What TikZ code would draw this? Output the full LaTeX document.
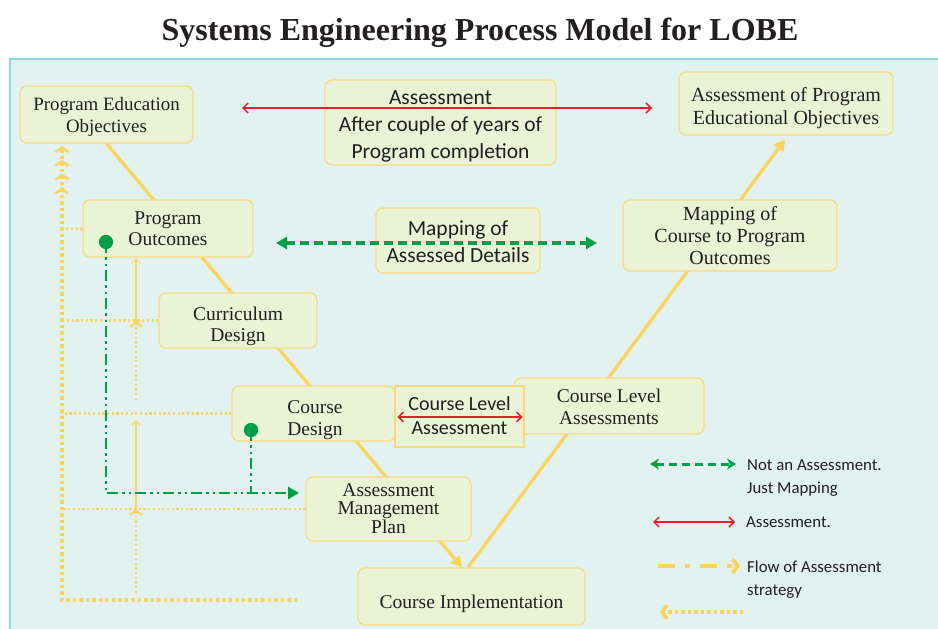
\documentclass[tikz,border=0pt]{standalone}
\usepackage{fontspec}
\setmainfont{Liberation Serif}
\newfontfamily\sansf{Carlito}
\usetikzlibrary{arrows.meta,calc,backgrounds}
\definecolor{panelfill}{RGB}{226,242,241}
\definecolor{panelline}{RGB}{140,210,234}
\definecolor{boxfill}{RGB}{235,243,214}
\definecolor{boxline}{RGB}{248,218,125}
\definecolor{vyellow}{RGB}{252,212,92}
\definecolor{mygreen}{RGB}{0,160,75}
\definecolor{myred}{RGB}{232,30,40}
\definecolor{ink}{RGB}{35,31,32}
\newcommand{\bxt}[2]{\raisebox{#1}[\height][\depth]{\begin{tabular}{@{}c@{}}#2\end{tabular}}}
\begin{document}
\begin{tikzpicture}[x=1pt,y=-1pt,
  box/.style={draw=boxline,fill=boxfill,line width=1.2pt,rounded corners=7pt,inner sep=0pt,align=center,text=ink},
  serif/.style={font=\fontsize{19.5}{22}\selectfont},
  sanstext/.style={font=\sansf\fontsize{21.5}{27}\selectfont},
  legtext/.style={font=\sansf\fontsize{16.8}{23}\selectfont,text=ink,align=left,anchor=west,inner sep=0pt},
  vline/.style={draw=vyellow,line width=3.2pt},
  redarrow/.style={draw=myred,line width=1.5pt,{Straight Barb[length=5pt,width=10pt,line width=1.5pt]}-{Straight Barb[length=5pt,width=10pt,line width=1.5pt]}},
  greendash/.style={draw=mygreen,line width=3.5pt,dash pattern=on 9pt off 5pt},
  flowline/.style={draw=mygreen,line width=2.8pt,dash pattern=on 11pt off 4pt on 2.5pt off 4pt on 2.5pt off 4pt},
  thickdot/.style={draw=vyellow,line width=3.8pt,dash pattern=on 3.5pt off 3pt},
  thindot/.style={draw=vyellow,line width=2.2pt,dash pattern=on 2.2pt off 2.5pt},
  thinsolid/.style={draw=vyellow,line width=1.2pt},
  gdot/.style={circle,fill=mygreen,minimum size=14pt,inner sep=0pt}
]
\useasboundingbox (0,0) rectangle (938,629);

% title
\node[font=\bfseries\fontsize{32}{36}\selectfont,text=ink] (title) at (480,33) {Systems Engineering Process Model for LOBE};

% boxes
\node[box,font=\fontsize{18.9}{22}\selectfont,minimum width=173pt,minimum height=57pt] (peo) at (106.5,114.5) {\bxt{-2.5pt}{Program Education\\Objectives}};
\node[box,sanstext,minimum width=231pt,minimum height=85pt] (asm) at (440.5,122.5) {\bxt{-3.5pt}{Assessment\\After couple of years of\\Program completion}};
\node[box,font=\fontsize{20}{23}\selectfont,minimum width=214pt,minimum height=63pt] (apeo) at (786,103.5) {\bxt{-5pt}{Assessment of Program\\Educational Objectives}};
\node[box,font=\fontsize{19.5}{21}\selectfont,minimum width=170pt,minimum height=57pt] (po) at (168,228.5) {\bxt{-2pt}{Program\\Outcomes}};
\node[box,sanstext,minimum width=164pt,minimum height=65pt] (mad) at (458,240.5) {\bxt{-3pt}{Mapping of\\Assessed Details}};
\node[box,font=\fontsize{20}{22}\selectfont,minimum width=214pt,minimum height=71pt] (mcpo) at (730,235.5) {\bxt{-3pt}{Mapping of\\Course to Program\\Outcomes}};
\node[box,font=\fontsize{19.5}{21}\selectfont,minimum width=158pt,minimum height=55pt] (cur) at (238,320.5) {\bxt{-6.5pt}{Curriculum\\Design}};
\node[box,serif,minimum width=163pt,minimum height=55pt] (cd) at (313.5,413.5) {\bxt{-7pt}{\hspace*{3pt}Course\\\hspace*{3pt}Design}};
\node[box,serif,minimum width=190pt,minimum height=56pt] (cla) at (609,406) {\bxt{-3pt}{Course Level\\Assessments}};
\node[box,font=\sansf\fontsize{20}{24}\selectfont,rounded corners=0pt,minimum width=129pt,minimum height=61pt] (cls) at (459.5,416.5) {\bxt{-1pt}{Course Level\\Assessment}};
\node[box,font=\fontsize{19.5}{18.5}\selectfont,minimum width=165pt,minimum height=64pt] (amp) at (388.5,509) {\bxt{-2.5pt}{Assessment\\Management\\Plan}};
\node[box,serif,minimum width=227pt,minimum height=57pt] (ci) at (471.5,596.5) {\raisebox{-7pt}[\height][\depth]{Course Implementation}};

% background layer: panel and V lines
\begin{scope}[on background layer]
  \fill[panelfill] (10,59) rectangle (945,640);
  \draw[panelline,line width=2pt] (945,59) -- (10,59) -- (10,640);
  \draw[vline,-{Triangle[length=11pt,width=12pt]}] (peo.south) -- ($(ci.north)+(-9.5,0)$);
  \draw[vline,-{Triangle[length=11pt,width=12pt]}] ($(ci.north)+(-3.5,0)$) -- ($(apeo.south)+(-1,4)$);
\end{scope}

% red assessment arrows
\coordinate (ra1) at (242,108);
\coordinate (ra2) at (652,108);
\draw[redarrow] (ra1) -- (ra2);
\draw[redarrow] ($(cls.west)+(3,0.5)$) -- ($(cls.east)+(-2,0.5)$);

% green mapping arrow
\coordinate (gm1) at (276,243);
\coordinate (gm2) at (597,243);
\draw[greendash,{Triangle[length=11pt,width=12pt]}-{Triangle[length=11pt,width=12pt]}] (gm1) -- (gm2);

% yellow left loop (thick dotted)
\coordinate (lb) at (297,600);
\coordinate (lt) at (62,146);
\draw[thickdot,-{Straight Barb[length=4.5pt,width=13pt,line width=2.5pt,sep=6.5pt]Straight Barb[length=4.5pt,width=13pt,line width=2.5pt,sep=6.5pt]Straight Barb[length=4.5pt,width=13pt,line width=2.5pt,sep=6.5pt]Straight Barb[length=4.5pt,width=13pt,line width=2.5pt]}] (lb) -| (lt);

% thin dotted horizontals to boxes
\draw[thindot] (po.west) -- (po.west -| lt);
\draw[thindot] (cur.west) -- (cur.west -| lt);
\draw[thindot] (cd.west) -- (cd.west -| lt);
\draw[thindot] (amp.west) -- (amp.west -| lt);

% column at x=136
\coordinate (cb) at (136,593);
\draw[thindot,-{Straight Barb[length=5pt,width=12pt,line width=2pt]}] (cb) -- (cb |- amp.west);
\draw[thinsolid,-{Straight Barb[length=4pt,width=9pt,line width=1.2pt]}] (cb |- amp.west) -- ($(cb |- cd.west)+(0,6.5)$);
\draw[thindot,-{Straight Barb[length=5pt,width=12pt,line width=2pt]}] ($(cb |- cd.west)+(0,-13.5)$) -- (cb |- cur.west);
\draw[thinsolid,-{Straight Barb[length=4pt,width=9pt,line width=1.2pt]}] (cb |- cur.west) -- ($(cb |- po.south)+(0,1)$);

% green flow lines and dots
\node[gdot] (d1) at (106,242) {};
\node[gdot] (d2) at (251,430) {};
\coordinate (fe) at (299,493);
\draw[flowline,-{Triangle[length=11pt,width=12pt]}] (d1.center) |- (fe);
\draw[flowline] (d2.center) -- (d2.center |- fe);
\fill[mygreen] (d1) circle (7pt);
\fill[mygreen] (d2) circle (7pt);

% legend
\coordinate (lg1) at (650,464);
\coordinate (lg2) at (736,464);
\draw[greendash,dash pattern=on 8pt off 5pt,line width=3pt,{Stealth[length=9pt,width=11pt]}-{Stealth[length=9pt,width=11pt]}] (lg1) -- (lg2);
\node[legtext] (lgt1) at (747,478.5) {Not an Assessment.\\Just Mapping};

\coordinate (lr1) at (653,522);
\coordinate (lr2) at (735,522);
\draw[redarrow,line width=1.3pt] (lr1) -- (lr2);
\node[legtext] (lgt2) at (746,522.5) {Assessment.};

\coordinate (ly1) at (658,566);
\coordinate (ly2) at (740,566);
\draw[draw=vyellow,line width=4pt,dash pattern=on 17pt off 10pt on 5pt off 10pt,-{Straight Barb[length=5pt,width=14pt,line width=4pt]}] (ly1) -- (ly2);
\node[legtext] (lgt3) at (747,579.5) {Flow of Assessment\\strategy};

\coordinate (lz1) at (743,612);
\coordinate (lz2) at (660,612);
\draw[thickdot,-{Straight Barb[length=5pt,width=14pt,line width=3.5pt]}] (lz1) -- (lz2);
\end{tikzpicture}
\end{document}
